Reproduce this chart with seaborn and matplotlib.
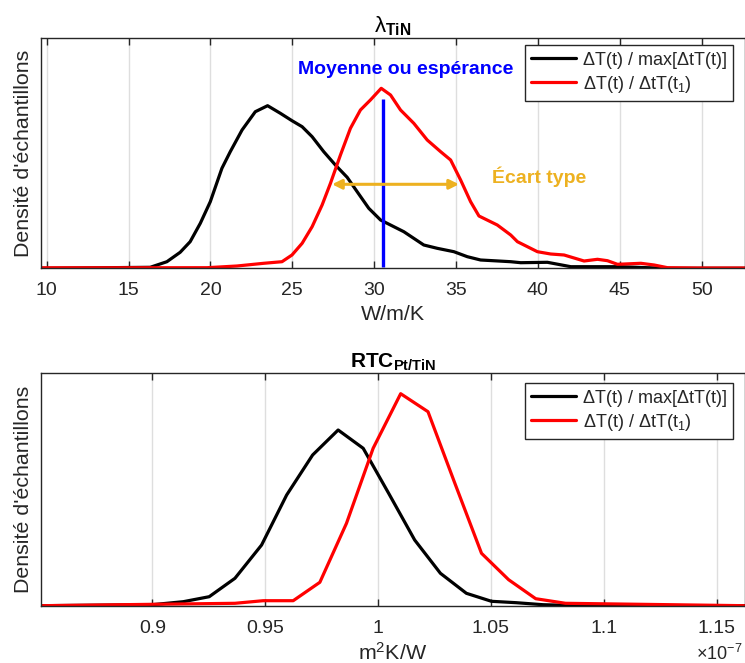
import matplotlib
matplotlib.use("Agg")
import matplotlib.pyplot as plt
import seaborn as sns


# --------- Values --------- #
LEGEND_LABELS = ["ΔT(t) / max[ΔtT(t)]", "ΔT(t) / ΔtT(t$_1$)"]

# lambda_TiN (W/m/K), sample density in arbitrary units
LAMBDA_X_MAX = [9.65, 16.32, 17.34, 18.15, 18.76, 19.38, 19.99, 20.70, 21.21, 21.93, 22.74, 23.49,
                24.27, 24.98, 25.60, 26.21, 26.92, 27.63, 28.35, 28.96, 29.67, 30.39, 31.81, 33.03,
                33.85, 34.87, 35.69, 36.50, 38.34, 38.95, 40.58, 42.01, 45.06, 46.70, 47.92, 52.70]
LAMBDA_Y_MAX = [0, 1.0, 6.6, 16, 26.6, 45, 66.6, 100, 116.6, 138.3, 156.6, 162.6,
                155, 147.6, 141.6, 131.6, 116.6, 103.3, 91, 76.6, 60, 48.3, 36.6, 23.3,
                20, 16.6, 11.6, 8.3, 6.6, 5.6, 6, 1.6, 1.6, 0.6, 0, 0]

LAMBDA_X_T1 = [9.65, 19.79, 21.62, 23.25, 24.37, 24.98, 25.60, 26.21, 26.82, 27.33, 27.94, 28.55, 29.16,
               29.77, 30.43, 31.00, 31.61, 32.42, 33.24, 34.06, 34.67, 35.28, 35.89, 36.40, 37.52,
               38.34, 38.75, 39.97, 40.78, 41.60, 42.82, 43.64, 44.25, 44.86, 46.29, 47.10, 47.92,
               49.76, 52.70]
LAMBDA_Y_T1 = [0.5, 0.6, 2.3, 5, 6.6, 13.3, 25, 41.6, 63.3, 85, 113.3, 140, 158.3,
               168.3, 180, 173.3, 158.3, 145, 128.3, 116.6, 108.3, 88.3, 66.6, 52.3, 43.3,
               33.3, 26.6, 16.6, 14.3, 13.3, 7.3, 9, 7.6, 4, 5, 3.3, 0.6,
               0.3, 0.3]

LAMBDA_MEAN = 30.53          # mean of the red curve
LAMBDA_MEAN_TOP = 169.3
LAMBDA_STD_LOW = 27.43       # standard deviation arrow
LAMBDA_STD_HIGH = 35.18
LAMBDA_STD_Y = 84

# RTC_Pt/TiN (m2K/W, x 1e-7), sample density in arbitrary units
RTC_X_MAX = [0.8507, 0.9000, 0.9137, 0.9252, 0.9366, 0.9484, 0.9595, 0.9710, 0.9823, 0.9934,
             1.0049, 1.0162, 1.0276, 1.0391, 1.0502, 1.0612, 1.0730, 1.0850, 1.1625]
RTC_Y_MAX = [0, 1, 4, 9, 27.4, 60.7, 110.7, 150.7, 175.7, 157.4,
             111.5, 65.7, 32.4, 12.4, 4.4, 3, 1, 0.3, 0]

RTC_X_T1 = [0.8507, 0.9366, 0.9491, 0.9624, 0.9742, 0.9860, 0.9978, 1.0100, 1.0221, 1.0339,
            1.0458, 1.0578, 1.0698, 1.0830, 1.1625]
RTC_Y_T1 = [0, 2.4, 5, 5, 23.4, 82.4, 157.4, 212, 194, 123,
            52.4, 26, 7, 2.4, 0]


# --------- Style --------- #
sns.set_theme(style="white")
plt.rcParams["font.family"] = ["Liberation Sans", "DejaVu Sans"]
plt.rcParams["mathtext.fontset"] = "custom"
plt.rcParams["mathtext.rm"] = "Liberation Sans"
plt.rcParams["mathtext.it"] = "Liberation Sans:italic"
plt.rcParams["mathtext.bf"] = "Liberation Sans:bold"

DARK = "#262626"
ORANGE = "#EDB120"
W, H = 745, 663


def style_axes(ax, xlim, ylim, xticks, xlabel):
    ax.set_xlim(*xlim)
    ax.set_ylim(*ylim)
    ax.set_xticks(xticks)
    ax.xaxis.set_major_formatter(plt.FuncFormatter(lambda v, p: f"{v:g}"))
    ax.set_yticks([])
    ax.grid(axis="x", color="#dedede", linewidth=1)
    ax.set_axisbelow(True)
    for s in ax.spines.values():
        s.set_color(DARK)
        s.set_linewidth(1)
    ax.tick_params(axis="x", direction="in", top=True, bottom=True, length=5, width=1,
                   color=DARK, labelcolor=DARK, labelsize=14, pad=10)
    ax.set_xlabel(xlabel, fontsize=15.4, color=DARK, labelpad=4)
    ax.set_ylabel("Densité d'échantillons", fontsize=15.4, color=DARK, labelpad=6)


def draw_curves(ax, x_max, y_max, x_t1, y_t1, top_px):
    sns.lineplot(x=x_max, y=y_max, color="black", linewidth=2.3, ax=ax,
                 label=LEGEND_LABELS[0], estimator=None)
    sns.lineplot(x=x_t1, y=y_t1, color="red", linewidth=2.3, ax=ax,
                 label=LEGEND_LABELS[1], estimator=None)
    width_px = W - 41
    ax.legend(loc="upper right", bbox_to_anchor=(1 - 12 / width_px, 1 - top_px / 230),
              borderaxespad=0, fontsize=13, frameon=True, fancybox=False, framealpha=1,
              edgecolor=DARK, handlelength=2.5, handletextpad=0.35, labelspacing=0.28,
              borderpad=0.35).get_frame().set_linewidth(1)


# --------- Figure --------- #
fig = plt.figure(figsize=(W / 100, H / 100), dpi=100)
ax1 = fig.add_axes([41 / W, 1 - 268.3 / H, (W - 41) / W, 230 / H])
ax2 = fig.add_axes([41 / W, 1 - 605.7 / H, (W - 41) / W, 232.4 / H])

# lambda_TiN
draw_curves(ax1, LAMBDA_X_MAX, LAMBDA_Y_MAX, LAMBDA_X_T1, LAMBDA_Y_T1, 7)
ax1.vlines(LAMBDA_MEAN, 1.6, LAMBDA_MEAN_TOP, color="blue", linewidth=2.4)
ax1.annotate("", xy=(LAMBDA_STD_LOW, LAMBDA_STD_Y), xytext=(LAMBDA_STD_HIGH, LAMBDA_STD_Y),
             arrowprops=dict(arrowstyle="<|-|>", color=ORANGE, lw=2.2,
                             mutation_scale=14, shrinkA=0, shrinkB=0))
ax1.text(25.37, 194, "Moyenne ou espérance", color="blue", fontsize=14,
         fontweight="bold", ha="left", va="baseline")
ax1.text(37.22, 85, "Écart type", color=ORANGE, fontsize=14,
         fontweight="bold", ha="left", va="baseline")
style_axes(ax1, (9.65, 52.65), (0, 230), range(10, 55, 5), "W/m/K")
ax1.set_title("λ$_{\\mathbf{TiN}}$", fontsize=16, color="black", pad=4)

# RTC_Pt/TiN
draw_curves(ax2, RTC_X_MAX, RTC_Y_MAX, RTC_X_T1, RTC_Y_T1, 10)
style_axes(ax2, (0.8507, 1.1625), (0, 232.4), [0.9, 0.95, 1.0, 1.05, 1.1, 1.15], "m$^2$K/W")
ax2.set_title("RTC$_{\\mathbf{Pt/TiN}}$", fontsize=15, fontweight="bold", color="black", pad=4)
fig.text(696 / W, 1 - 660 / H, "×10$^{-7}$", fontsize=13, color=DARK,
         ha="left", va="baseline")

fig.savefig("out.png", dpi=100)
